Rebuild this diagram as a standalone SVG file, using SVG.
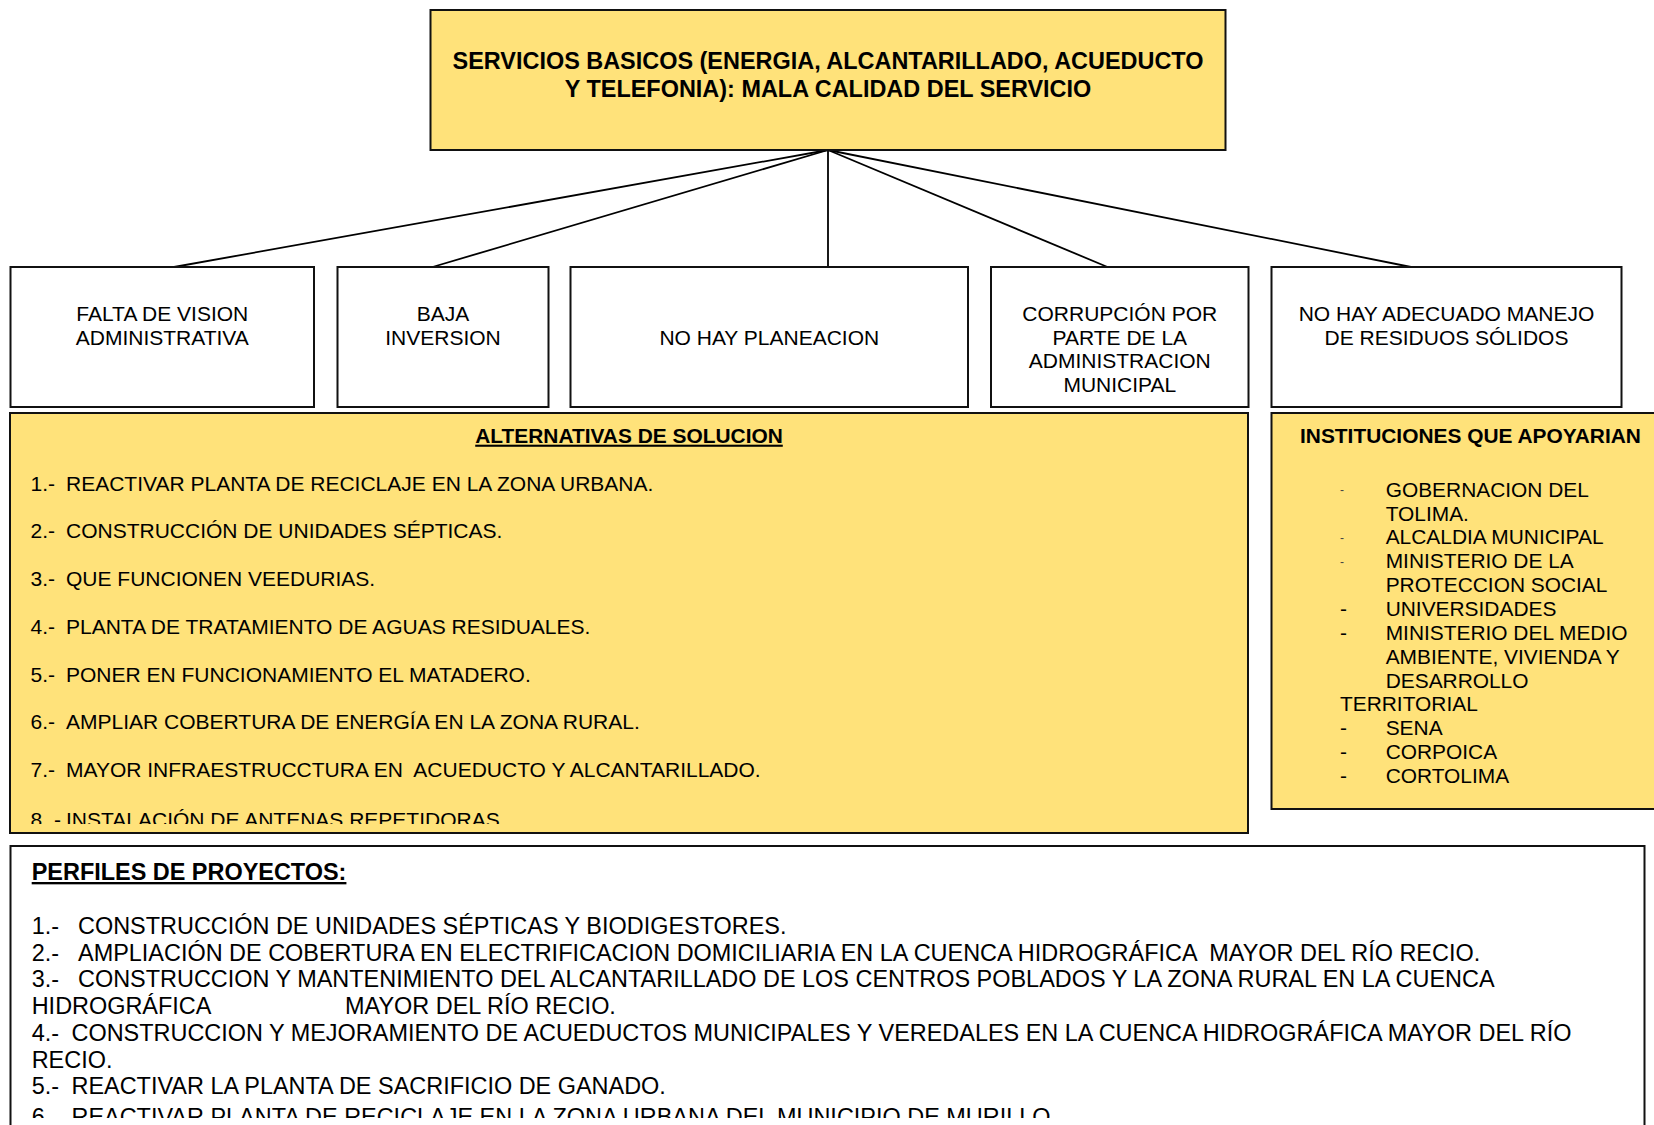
<svg xmlns="http://www.w3.org/2000/svg" width="1654" height="1125" viewBox="0 0 1654 1125">
<style>
.box{fill:#ffffff;stroke:#111;stroke-width:2}
.ybox{fill:#ffe27a;stroke:#111;stroke-width:2}
.t{font-family:"Liberation Sans",Arial,sans-serif;fill:#000}
.c{font-size:21px;text-anchor:middle}
.hb{font-size:23.45px;font-weight:bold;text-anchor:middle}
.hs{font-size:20.9px;font-weight:bold}
.r{font-size:21px}
.ri{font-size:20.9px}
.p{font-size:23.45px}
.u{text-decoration:underline}
.sd{font-size:12px;fill:#444}
.conn line{stroke:#000;stroke-width:1.8}
</style>
<defs>
<clipPath id="clipAlt"><rect x="10" y="413" width="1238" height="411"/></clipPath>
<clipPath id="clipPerf"><rect x="10" y="846" width="1640" height="272"/></clipPath>
</defs>
<rect width="1654" height="1125" fill="#ffffff"/>

<g id="connectors" class="conn">
<line x1="828" y1="150" x2="174" y2="267"/>
<line x1="828" y1="150" x2="432.5" y2="267"/>
<line x1="828" y1="150" x2="828" y2="267"/>
<line x1="828" y1="150" x2="1107.5" y2="267"/>
<line x1="828" y1="150" x2="1411" y2="267"/>
</g>

<g id="problema">
<rect class="ybox" x="430.5" y="10" width="795" height="140"/>
<text class="t hb" x="828" y="69.3">SERVICIOS BASICOS (ENERGIA, ALCANTARILLADO, ACUEDUCTO</text>
<text class="t hb" x="828" y="96.7">Y TELEFONIA): MALA CALIDAD DEL SERVICIO</text>
</g>

<g id="causa1">
<rect class="box" x="10.5" y="267" width="303.5" height="140"/>
<text class="t c" x="162.3" y="321">FALTA DE VISION</text>
<text class="t c" x="162.3" y="344.5">ADMINISTRATIVA</text>
</g>
<g id="causa2">
<rect class="box" x="337.5" y="267" width="211" height="140"/>
<text class="t c" x="443" y="321">BAJA</text>
<text class="t c" x="443" y="344.5">INVERSION</text>
</g>
<g id="causa3">
<rect class="box" x="570.5" y="267" width="397.5" height="140"/>
<text class="t c" x="769.3" y="344.5">NO HAY PLANEACION</text>
</g>
<g id="causa4">
<rect class="box" x="991" y="267" width="257.5" height="140"/>
<text class="t c" x="1119.8" y="321">CORRUPCIÓN POR</text>
<text class="t c" x="1119.8" y="344.5">PARTE DE LA</text>
<text class="t c" x="1119.8" y="368">ADMINISTRACION</text>
<text class="t c" x="1119.8" y="391.5">MUNICIPAL</text>
</g>
<g id="causa5">
<rect class="box" x="1271.5" y="267" width="350" height="140"/>
<text class="t c" x="1446.5" y="321">NO HAY ADECUADO MANEJO</text>
<text class="t c" x="1446.5" y="344.5">DE RESIDUOS SÓLIDOS</text>
</g>

<g id="alternativas">
<rect class="ybox" x="10" y="413" width="1238" height="420"/>
<text class="t hs u" x="629" y="442.7" text-anchor="middle">ALTERNATIVAS DE SOLUCION</text>
<g clip-path="url(#clipAlt)">
<text class="t r" x="30.6" y="490.7">1.-</text><text class="t r" x="66" y="490.7">REACTIVAR PLANTA DE RECICLAJE EN LA ZONA URBANA.</text>
<text class="t r" x="30.6" y="538.4">2.-</text><text class="t r" x="66" y="538.4">CONSTRUCCIÓN DE UNIDADES SÉPTICAS.</text>
<text class="t r" x="30.6" y="586.1">3.-</text><text class="t r" x="66" y="586.1">QUE FUNCIONEN VEEDURIAS.</text>
<text class="t r" x="30.6" y="633.8">4.-</text><text class="t r" x="66" y="633.8">PLANTA DE TRATAMIENTO DE AGUAS RESIDUALES.</text>
<text class="t r" x="30.6" y="681.5">5.-</text><text class="t r" x="66" y="681.5">PONER EN FUNCIONAMIENTO EL MATADERO.</text>
<text class="t r" x="30.6" y="729.2">6.-</text><text class="t r" x="66" y="729.2">AMPLIAR COBERTURA DE ENERGÍA EN LA ZONA RURAL.</text>
<text class="t r" x="30.6" y="776.9">7.-</text><text class="t r" x="66" y="776.9" xml:space="preserve">MAYOR INFRAESTRUCCTURA EN  ACUEDUCTO Y ALCANTARILLADO.</text>
<text class="t r" x="30.6" y="826.5" xml:space="preserve">8. -</text><text class="t r" x="66" y="826.5">INSTALACIÓN DE ANTENAS REPETIDORAS.</text>
</g>
</g>

<g id="instituciones">
<rect class="ybox" x="1271.5" y="413" width="400" height="396"/>
<text class="t hs" x="1300" y="442.7">INSTITUCIONES QUE APOYARIAN</text>
<text class="t sd" x="1340" y="494">-</text><text class="t ri" x="1385.7" y="496.7">GOBERNACION DEL</text>
<text class="t ri" x="1385.7" y="520.55">TOLIMA.</text>
<text class="t sd" x="1340" y="541.7">-</text><text class="t ri" x="1385.7" y="544.4">ALCALDIA MUNICIPAL</text>
<text class="t sd" x="1340" y="565.5">-</text><text class="t ri" x="1385.7" y="568.25">MINISTERIO DE LA</text>
<text class="t ri" x="1385.7" y="592.1">PROTECCION SOCIAL</text>
<text class="t ri" x="1340" y="615.95">-</text><text class="t ri" x="1385.7" y="615.95">UNIVERSIDADES</text>
<text class="t ri" x="1340" y="639.8">-</text><text class="t ri" x="1385.7" y="639.8">MINISTERIO DEL MEDIO</text>
<text class="t ri" x="1385.7" y="663.65">AMBIENTE, VIVIENDA Y</text>
<text class="t ri" x="1385.7" y="687.5">DESARROLLO</text>
<text class="t ri" x="1340" y="711.35">TERRITORIAL</text>
<text class="t ri" x="1340" y="735.2">-</text><text class="t ri" x="1385.7" y="735.2">SENA</text>
<text class="t ri" x="1340" y="759.05">-</text><text class="t ri" x="1385.7" y="759.05">CORPOICA</text>
<text class="t ri" x="1340" y="782.9">-</text><text class="t ri" x="1385.7" y="782.9">CORTOLIMA</text>
</g>

<g id="perfiles">
<rect class="box" x="10.5" y="846" width="1634" height="300"/>
<text class="t p u" x="31.7" y="880" font-weight="bold">PERFILES DE PROYECTOS:</text>
<g clip-path="url(#clipPerf)">
<text class="t p" x="31.7" y="934">1.-</text><text class="t p" x="78" y="934">CONSTRUCCIÓN DE UNIDADES SÉPTICAS Y BIODIGESTORES.</text>
<text class="t p" x="31.7" y="960.7">2.-</text><text class="t p" x="78" y="960.7" xml:space="preserve">AMPLIACIÓN DE COBERTURA EN ELECTRIFICACION DOMICILIARIA EN LA CUENCA HIDROGRÁFICA  MAYOR DEL RÍO RECIO.</text>
<text class="t p" x="31.7" y="987.4">3.-</text><text class="t p" x="78" y="987.4">CONSTRUCCION Y MANTENIMIENTO DEL ALCANTARILLADO DE LOS CENTROS POBLADOS Y LA ZONA RURAL EN LA CUENCA</text>
<text class="t p" x="31.7" y="1014.1">HIDROGRÁFICA</text><text class="t p" x="345" y="1014.1">MAYOR DEL RÍO RECIO.</text>
<text class="t p" x="31.7" y="1040.8">4.-</text><text class="t p" x="71.5" y="1040.8">CONSTRUCCION Y MEJORAMIENTO DE ACUEDUCTOS MUNICIPALES Y VEREDALES EN LA CUENCA HIDROGRÁFICA MAYOR DEL RÍO</text>
<text class="t p" x="31.7" y="1067.5">RECIO.</text>
<text class="t p" x="31.7" y="1094.2">5.-</text><text class="t p" x="71.5" y="1094.2">REACTIVAR LA PLANTA DE SACRIFICIO DE GANADO.</text>
<text class="t p" x="31.7" y="1124.5">6.-</text><text class="t p" x="71.5" y="1124.5">REACTIVAR PLANTA DE RECICLAJE EN LA ZONA URBANA DEL MUNICIPIO DE MURILLO</text>
</g>
</g>
</svg>
